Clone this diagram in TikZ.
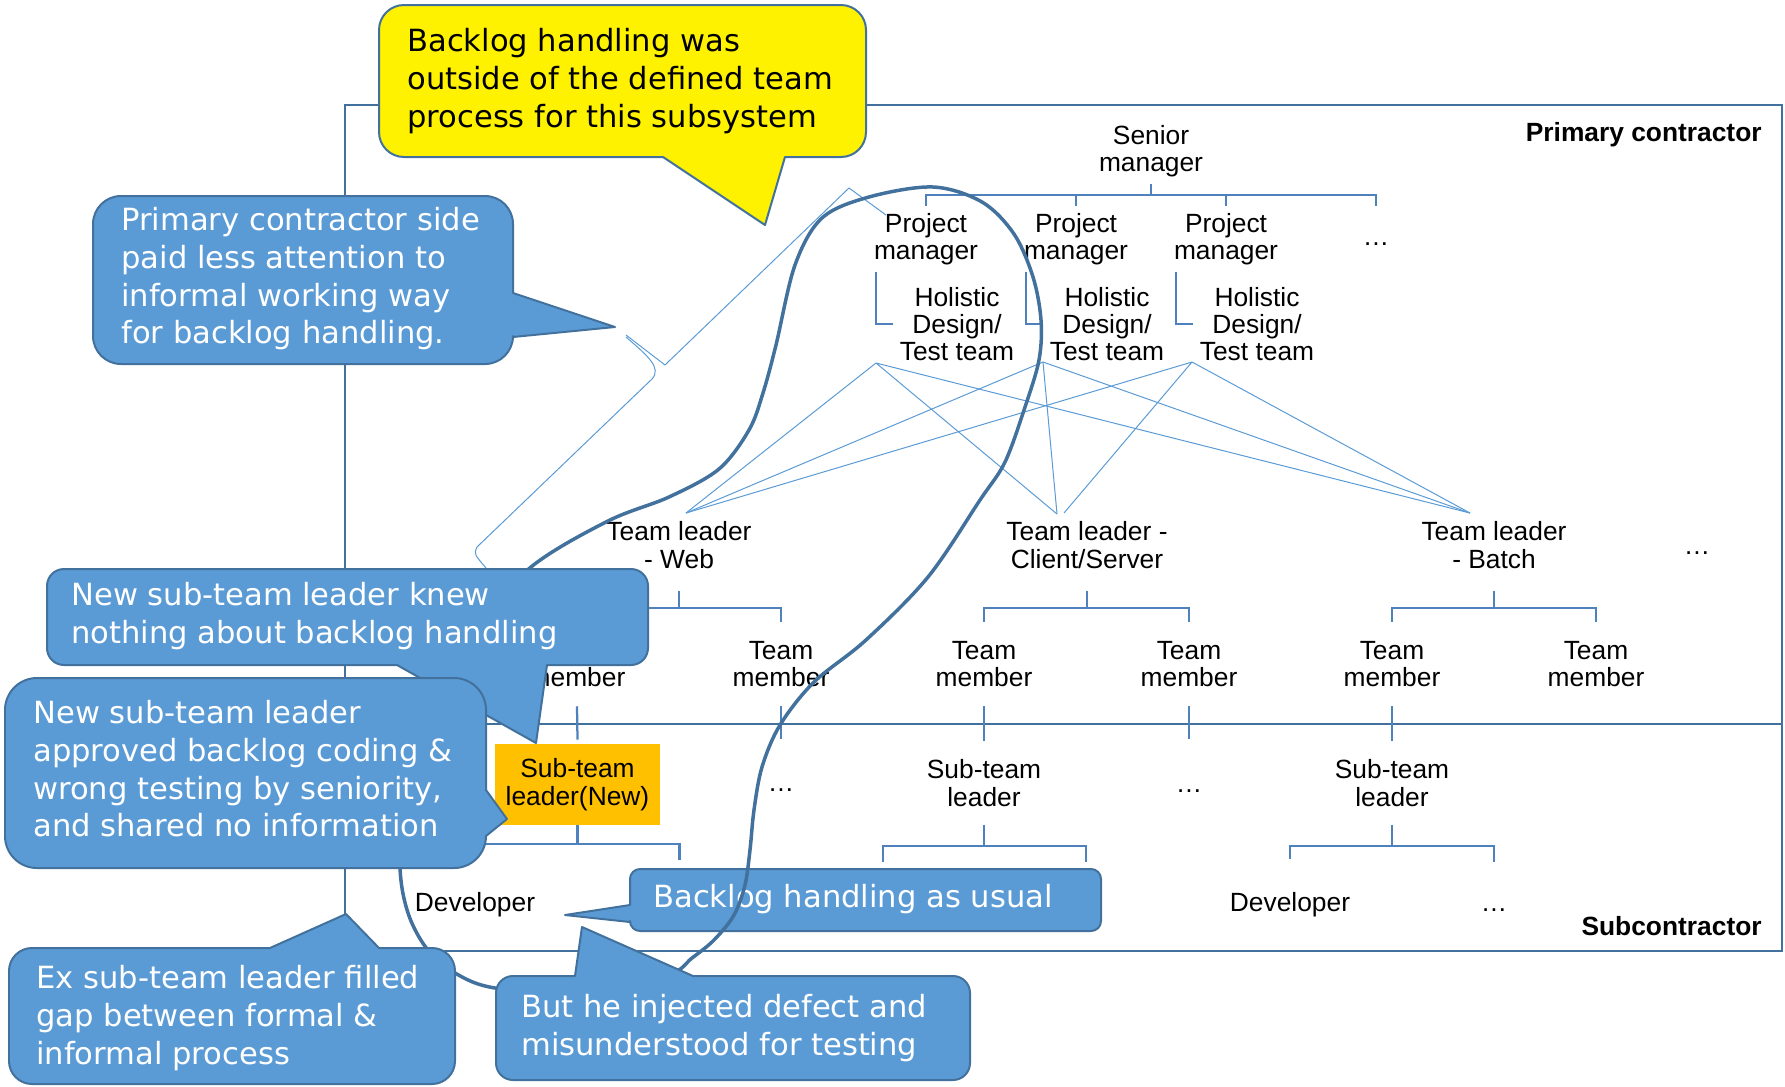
\documentclass[tikz,border=0pt]{standalone}
\usepackage{fontspec}
\setmainfont{Liberation Sans}
\newfontfamily\callfont{DejaVu Sans}
\usetikzlibrary{calc}
\definecolor{framec}{RGB}{65,113,156}
\definecolor{treec}{RGB}{79,129,189}
\definecolor{thinc}{RGB}{91,155,213}
\definecolor{callfill}{RGB}{91,155,213}
\definecolor{orangec}{RGB}{255,192,0}

\begin{document}
\begin{tikzpicture}
[
x=0.02cm, y=-0.02cm,
Chart/.style={font=\fontsize{15}{15.6}\selectfont, align=center, inner sep=0.13cm},
Member/.style={Chart, inner ysep=0.38cm},
Leader/.style={Chart, inner ysep=0.44cm},
Sublead/.style={Chart, inner ysep=0.36cm},
Dev/.style={Chart, inner ysep=0.66cm},
Newlead/.style={Chart, fill=orangec, minimum width=3.3cm, minimum height=1.62cm, inner sep=0pt},
Dots/.style={font=\fontsize{15}{15.6}\selectfont, inner sep=0pt},
Label/.style={font=\fontsize{15}{15.6}\selectfont\bfseries, inner sep=0pt, anchor=base east},
Frame/.style={draw=framec, line width=0.04cm},
Tree/.style={draw=treec, line width=0.045cm},
Thinlink/.style={draw=thinc, line width=0.02cm},
Loop/.style={draw=framec, line width=0.07cm},
Callout/.style={fill=callfill, draw=framec, line width=0.04cm, line join=round},
Yellowcall/.style={Callout, fill=yellow},
Calltext/.style={font=\callfont\fontsize{17.4}{21.5}\selectfont, text=white, align=left, inner sep=0pt, anchor=north west}
]
\useasboundingbox (0,0) rectangle (1785,1086);

% contractor frames
\draw[Frame] (345,105) rectangle (1782,724);
\draw[Frame] (345,724) rectangle (1782,951);
\node[Label] (primlab) at (1762,141) {Primary contractor};
\node[Label] (sublab) at (1762,935) {Subcontractor};

% primary contractor side
\node[Chart] (sm) at (1151,151) {Senior\\manager};
\node[Chart] (pm1) at (926,239) {Project\\manager};
\node[Chart] (pm2) at (1076,239) {Project\\manager};
\node[Chart] (pm3) at (1226,239) {Project\\manager};
\node[Dots] (pmdots) at (1376,244) {…};
\node[Chart] (ht1) at (957,324) {Holistic\\Design/\\Test team};
\node[Chart] (ht2) at (1107,324) {Holistic\\Design/\\Test team};
\node[Chart] (ht3) at (1257,324) {Holistic\\Design/\\Test team};

\node[Leader] (tlw) at (679,545) {Team leader\\- Web};
\node[Leader] (tlc) at (1087,545) {Team leader -\\Client/Server};
\node[Leader] (tlb) at (1494,545) {Team leader\\- Batch};
\node[Dots] (tldots) at (1697,553) {…};

\node[Member] (tm1) at (577,664) {Team\\member};
\node[Member] (tm2) at (781,664) {Team\\member};
\node[Member] (tm3) at (984,664) {Team\\member};
\node[Member] (tm4) at (1189,664) {Team\\member};
\node[Member] (tm5) at (1392,664) {Team\\member};
\node[Member] (tm6) at (1596,664) {Team\\member};

% subcontractor side
\node[Newlead] (stlnew) at (577.5,784.5) {Sub-team\\leader(New)};
\node[Dots] (stldots1) at (781,790) {…};
\node[Sublead] (stlc) at (984,783) {Sub-team\\leader};
\node[Dots] (stldots2) at (1189,791) {…};
\node[Sublead] (stlb) at (1392,783) {Sub-team\\leader};
\node[Dev] (dev1) at (475,905) {Developer};
\node[Dev] (dev2) at (1290,905) {Developer};
\node[Dots] (devdots) at (1494,910) {…};

% thin links from design/test teams to team leaders
\coordinate (ft1) at (876,363);
\coordinate (ft2) at (1043,362);
\coordinate (ft3) at (1192,362);
\coordinate (hw) at (686,513);
\coordinate (hc) at (1057,514);
\coordinate (hc3) at (1064,513);
\coordinate (hb) at (1470,513);
\draw[Thinlink] (ft1) -- (hw) (ft1) -- (hc) (ft1) -- (hb);
\draw[Thinlink] (ft2) -- (hw) (ft2) -- (hc) (ft2) -- (hb);
\draw[Thinlink] (ft3) -- (hw) (ft3) -- (hc3) (ft3) -- (hb);

% thin bent strip
\draw[Thinlink] (886,215) -- (849,188) -- (665,365) -- (626,335);
\draw[Thinlink] (626,337) .. controls (648,356) and (662,368) .. (652,379) -- (477,547) .. controls (474,554) .. (486,568);

% org brackets
\draw[Tree] (sm.south) -- ++(0,11) coordinate (smbar);
\coordinate (pmend) at (1376,206);
\draw[Tree] (pm1.north) |- (smbar) -| (pmend);
\draw[Tree] (pm2.north) -- (pm2.north |- smbar);
\draw[Tree] (pm3.north) -- (pm3.north |- smbar);

\draw[Tree] ($(pm1.south)+(-50,0)$) |- (ht1.west);
\draw[Tree] ($(pm2.south)+(-50,0)$) |- (ht2.west);
\draw[Tree] ($(pm3.south)+(-50,0)$) |- (ht3.west);

\draw[Tree] (tlw.south) -- ++(0,17) coordinate (tlwbar);
\draw[Tree] (tm1.north) |- (tlwbar) -| (tm2.north);
\draw[Tree] (tlc.south) -- ++(0,17) coordinate (tlcbar);
\draw[Tree] (tm3.north) |- (tlcbar) -| (tm4.north);
\draw[Tree] (tlb.south) -- ++(0,17) coordinate (tlbbar);
\draw[Tree] (tm5.north) |- (tlbbar) -| (tm6.north);

\draw[Tree] (tm1.south) -- ([yshift=0.08cm]stlnew.north);
\draw[Tree] (tm2.south) -- ++(0,33);
\draw[Tree] (tm3.south) -- (stlc.north);
\draw[Tree] (tm4.south) -- ++(0,33);
\draw[Tree] (tm5.south) -- (stlb.north);

\draw[Tree] (stlnew.south) -- ++(0,19) coordinate (newbar);
\draw[Tree] (dev1.north) |- (newbar) -| ($(newbar)+(102,16)$);
\draw[Tree] (stlc.south) -- ++(0,21) coordinate (stlcbar);
\draw[Tree] ($(stlcbar)+(-101,16)$) |- (stlcbar) -| ($(stlcbar)+(102,16)$);
\draw[Tree] (stlb.south) -- ++(0,21) coordinate (stlbbar);
\draw[Tree] (dev2.north) |- (stlbbar) -| ($(stlbbar)+(102,16)$);

% callouts
\draw[Yellowcall] (379,81) [rounded corners=0.5cm] -- (379,5) -- (866,5) -- (866,157) [sharp corners] -- (785,157) -- (765,225) -- (663,157) [rounded corners=0.5cm] -- (379,157) -- cycle;
\node[Calltext, text=black] (outside) at (407,28) {Backlog handling was\\outside of the defined team\\process for this subsystem};

\draw[Callout] (300,196) [rounded corners=0.56cm] -- (513,196) [sharp corners] -- (513,293) -- (615,327) -- (513,337) [rounded corners=0.56cm] -- (513,364) -- (93,364) -- (93,196) -- cycle;
\node[Calltext] (primside) at (121,207) {Primary contractor side\\paid less attention to\\informal working way\\for backlog handling.};

\draw[Callout] (865,869) [rounded corners=0.2cm] -- (1101,869) -- (1101,931) -- (630,931) [sharp corners] -- (630,922) -- (565,915) -- (630,905) [rounded corners=0.2cm] -- (630,869) -- cycle;
\node[Calltext] (usual) at (653,884) {Backlog handling as usual};

% informal loop
\draw[Loop] plot[smooth cycle, tension=0.55] coordinates {(400,850) (402,888) (411,921) (428,950) (455,973) (495,988) (585,994) (668,975) (692,958) (714,940) (734,915) (745,885) (750,850) (754,810) (762,767) (780,725) (814,682) (866,640) (928,577) (980,500) (1005,462) (1025,407) (1039,360) (1041,320) (1033,277) (1014,234) (982,202) (933,187) (869,197) (822,218) (795,265) (776,345) (763,393) (749,430) (719,469) (669,497) (608,521) (531,567) (475,630) (430,720) (406,790)};

\draw[Callout] (47,617) [rounded corners=0.34cm] -- (47,569) -- (648,569) -- (648,665) [sharp corners] -- (547,665) -- (536,743) -- (397,665) [rounded corners=0.34cm] -- (47,665) -- cycle;
\node[Calltext] (knew) at (71,582) {New sub-team leader knew\\nothing about backlog handling};

\draw[Callout] (5,773) [rounded corners=0.64cm] -- (5,678) -- (486,678) [sharp corners] -- (486,790) -- (507,819) -- (486,836) [rounded corners=0.64cm] -- (486,868) -- (5,868) -- cycle;
\node[Calltext] (approved) at (33,700) {New sub-team leader\\approved backlog coding \&\\wrong testing by seniority,\\and shared no information};

\draw[Callout] (9,1016) [rounded corners=0.46cm] -- (9,948) [sharp corners] -- (270,948) -- (346,914) -- (379,948) [rounded corners=0.46cm] -- (455,948) -- (455,1084) -- (9,1084) -- cycle;
\node[Calltext] (exlead) at (36,965) {Ex sub-team leader filled\\gap between formal \&\\informal process};

\draw[Callout] (496,1028) [rounded corners=0.34cm] -- (496,976) [sharp corners] -- (575,976) -- (582,927) -- (693,976) [rounded corners=0.34cm] -- (970,976) -- (970,1080) -- (496,1080) -- cycle;
\node[Calltext] (buthe) at (521,994) {But he injected defect and\\misunderstood for testing};
\end{tikzpicture}
\end{document}
